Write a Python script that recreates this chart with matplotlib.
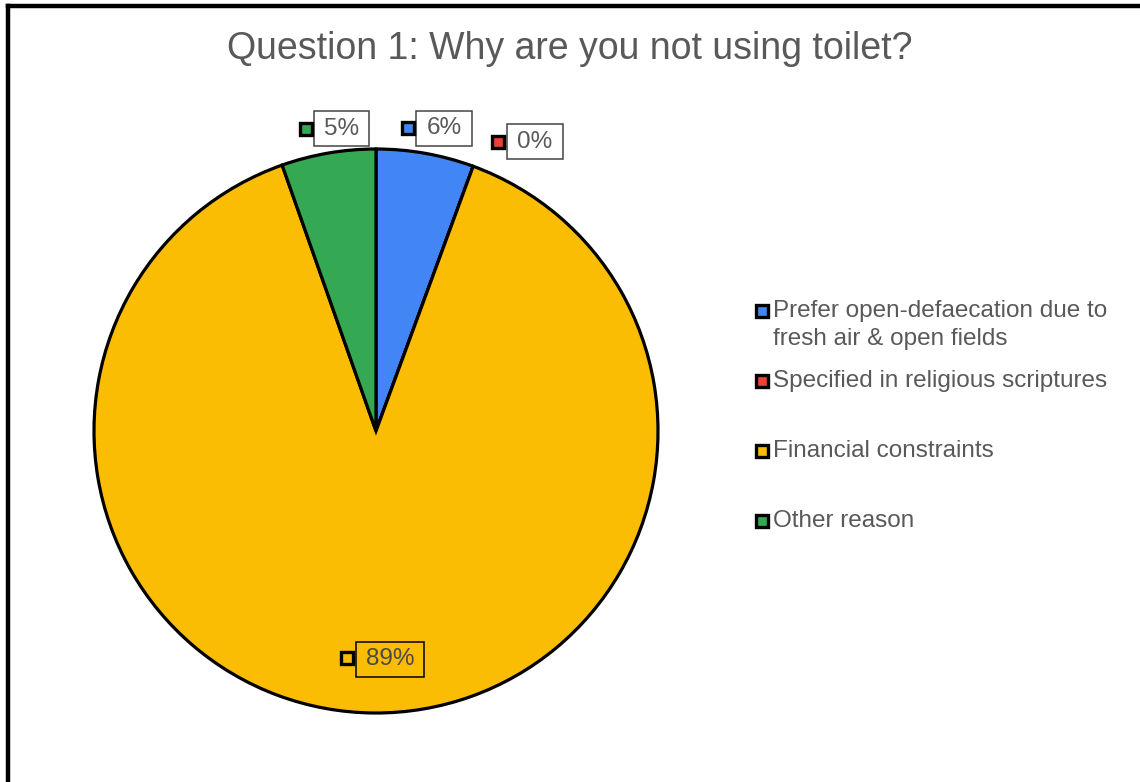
import matplotlib
matplotlib.use("Agg")
import matplotlib.pyplot as plt
from matplotlib.lines import Line2D
from matplotlib.patches import Rectangle

plt.rcParams['font.family'] = ['Liberation Sans', 'DejaVu Sans']

# Survey responses (percent of respondents)
categories = [
    "Prefer open-defaecation due to\nfresh air & open fields",
    "Specified in religious scriptures",
    "Financial constraints",
    "Other reason",
]
shares = [5.6, 0.0, 89.0, 5.4]
colors = ["#4285F4", "#EA4335", "#FBBC04", "#34A853"]
title = "Question 1: Why are you not using toilet?"

W, H = 1140, 782
fig = plt.figure(figsize=(W / 100, H / 100), dpi=100)
fig.patch.set_facecolor("white")

def fx(px):
    return px / W

def fy(py):
    return 1 - py / H

# pie axes: centre (376, 431) px, radius 282 px
cx, cy, R = 376, 431, 282
ax = fig.add_axes([fx(cx - R), fy(cy + R), 2 * R / W, 2 * R / H])
wedges, _ = ax.pie(
    shares, colors=colors, startangle=90, counterclock=False, radius=1,
    wedgeprops=dict(edgecolor="black", linewidth=2.3),
)
ax.set_xlim(-1, 1)
ax.set_ylim(-1, 1)
ax.set_aspect("equal")
ax.axis("off")

# value labels: (text centre, marker centre) in pie units
label_layout = [
    ((0.241, 1.074), (0.113, 1.076)),
    ((0.564, 1.025), (0.433, 1.025)),
    ((0.050, -0.809), (-0.103, -0.806)),
    ((-0.121, 1.071), (-0.248, 1.071)),
]
text_gray = "#595959"
marker_style = dict(marker="s", markersize=8, markeredgecolor="black",
                    markeredgewidth=2.4, linestyle="none")
renderer = fig.canvas.get_renderer()
for val, col, ((tx, ty), (mx, my)) in zip(shares, colors, label_layout):
    inside = val > 50
    t = ax.text(tx, ty, f"{val:.0f}%", ha="center", va="center", fontsize=17.5,
                color=text_gray if not inside else "#4a4a4a", clip_on=False,
                zorder=5)
    bb = t.get_window_extent(renderer)
    bw = (bb.width + 20) / R
    bh = 35 / R
    ax.add_patch(Rectangle((tx - bw / 2, ty - bh / 2), bw, bh,
                           facecolor="none" if inside else "white",
                           edgecolor="black" if inside else "#444444",
                           linewidth=1.1, clip_on=False, zorder=4))
    ax.plot([mx], [my], markerfacecolor=col, clip_on=False, zorder=5,
            **marker_style)

fig.text(0.5, fy(49), title, ha="center", va="center", fontsize=27,
         color=text_gray)

# legend
legend_rows = [311, 381, 451, 521]
for label, col, py in zip(categories, colors, legend_rows):
    fig.add_artist(Line2D([fx(762)], [fy(py)], transform=fig.transFigure,
                          markerfacecolor=col, **marker_style))
    for i, line in enumerate(label.split("\n")):
        fig.text(fx(773), fy(py + 28 * i), line, ha="left", va="center",
                 fontsize=17.5, color=text_gray)

# frame edges
fig.add_artist(Line2D([fx(8), fx(8)], [0, fy(6)], transform=fig.transFigure,
                      color="black", linewidth=3.2, solid_capstyle="projecting"))
fig.add_artist(Line2D([fx(8), 1], [fy(6), fy(6)], transform=fig.transFigure,
                      color="black", linewidth=3.2, solid_capstyle="projecting"))

fig.savefig("out.png", dpi=100, facecolor="white")
